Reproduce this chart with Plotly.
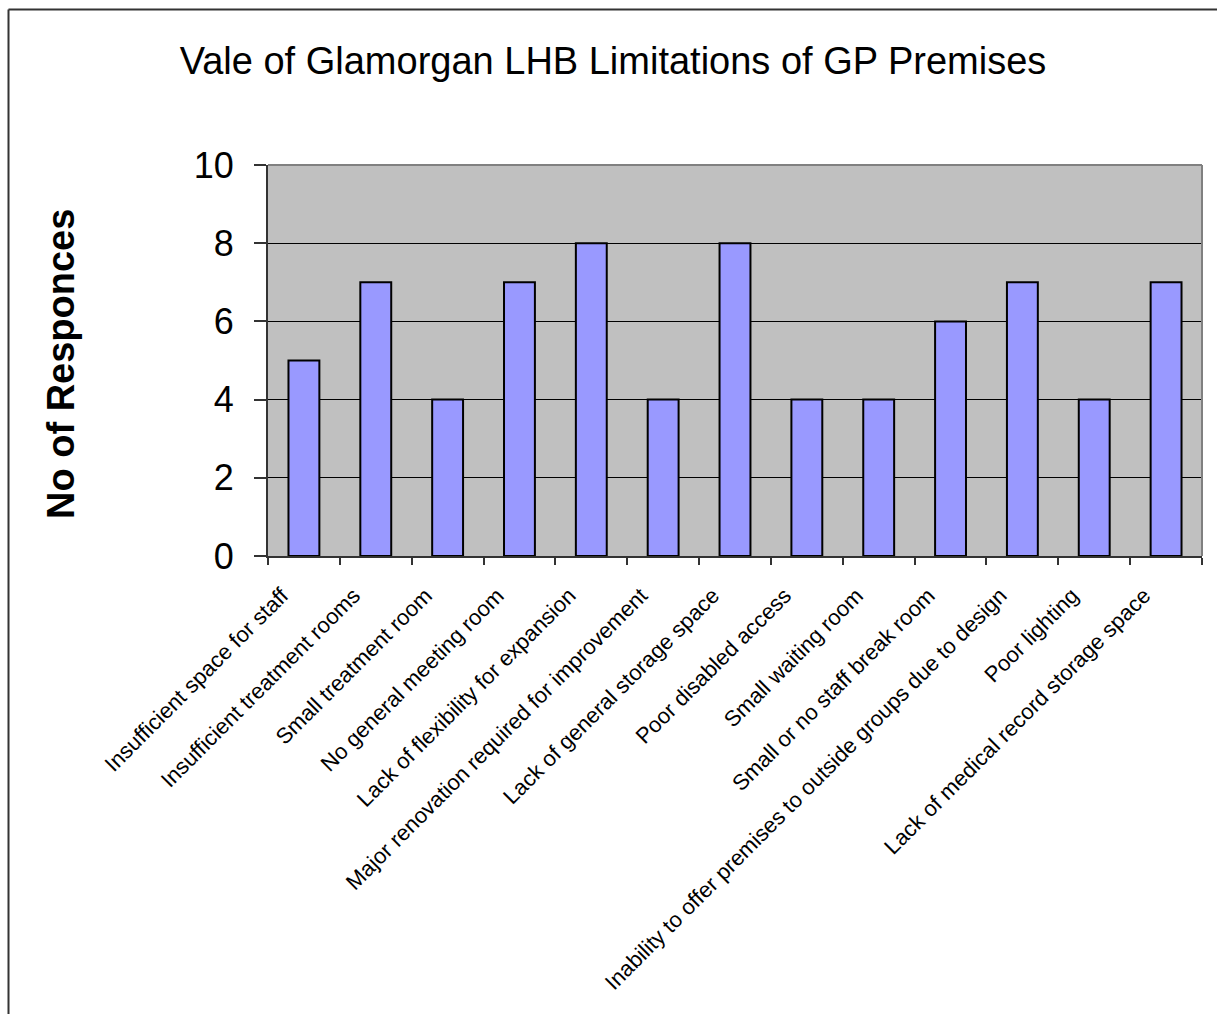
import plotly.graph_objects as go

categories = [
    "Insufficient space for staff",
    "Insufficient treatment rooms",
    "Small treatment room",
    "No general meeting room",
    "Lack of flexibility for expansion",
    "Major renovation required for improvement",
    "Lack of general storage space",
    "Poor disabled access",
    "Small waiting room",
    "Small or no staff break room",
    "Inability to offer premises to outside groups due to design",
    "Poor lighting",
    "Lack of medical record storage space",
]
responses = [5, 7, 4, 7, 8, 4, 8, 4, 4, 6, 7, 4, 7]
y_ticks = [0, 2, 4, 6, 8, 10]

FONT = "Arial, Liberation Sans, sans-serif"

W, H = 1217, 1014
L, R, T, B = 268, 15, 165, 458
plot_w = W - L - R
plot_h = H - T - B


def px_x(px):
    return (px - L) / plot_w


def px_y(py):
    return (H - B - py) / plot_h


fig = go.Figure(
    go.Bar(
        x=categories,
        y=responses,
        marker=dict(color="#9999FF", line=dict(color="black", width=2)),
    )
)

fig.update_layout(
    width=W,
    height=H,
    margin=dict(l=L, r=R, t=T, b=B, autoexpand=False),
    paper_bgcolor="white",
    plot_bgcolor="#C0C0C0",
    bargap=0.57,
    showlegend=False,
    font=dict(family=FONT, color="black"),
    title=dict(
        text="Vale of Glamorgan LHB Limitations of GP Premises",
        x=613 / W,
        xref="container",
        xanchor="center",
        y=1 - 61 / H,
        yref="container",
        yanchor="middle",
        font=dict(family=FONT, size=38, color="black"),
    ),
)

fig.update_xaxes(
    type="category",
    tickangle=-45,
    tickfont=dict(family=FONT, size=22, color="black"),
    tickson="boundaries",
    ticks="outside",
    ticklen=7,
    tickwidth=1.5,
    tickcolor="#333333",
    ticklabelshift=-22,
    ticklabelstandoff=16,
    showline=True,
    linecolor="#333333",
    linewidth=2,
    showgrid=False,
    mirror=False,
)

fig.update_yaxes(
    range=[0, 10],
    tickvals=y_ticks,
    tickfont=dict(family=FONT, size=36, color="black"),
    ticks="outside",
    ticklen=12,
    tickwidth=1.5,
    tickcolor="#333333",
    ticklabelstandoff=13,
    showline=True,
    linecolor="#333333",
    linewidth=2,
    showgrid=True,
    gridcolor="black",
    gridwidth=1,
    zeroline=False,
)

# light frame around the top and right of the plot area
fig.add_shape(type="line", xref="paper", yref="paper", x0=0, x1=1, y0=1, y1=1,
              line=dict(color="#808080", width=2), layer="above")
fig.add_shape(type="line", xref="paper", yref="paper", x0=1, x1=1, y0=0, y1=1,
              line=dict(color="#808080", width=2), layer="above")

# outer chart border (left and top edges)
fig.add_shape(type="line", xref="paper", yref="paper",
              x0=px_x(8.5), x1=px_x(8.5), y0=px_y(9.5), y1=px_y(1030),
              line=dict(color="#333333", width=2))
fig.add_shape(type="line", xref="paper", yref="paper",
              x0=px_x(8.5), x1=px_x(1230), y0=px_y(9.5), y1=px_y(9.5),
              line=dict(color="#333333", width=2))

fig.add_annotation(
    text="<b>No of Responces</b>",
    xref="paper", yref="paper",
    x=px_x(61), y=px_y(364),
    xanchor="center", yanchor="middle",
    textangle=-90,
    showarrow=False,
    font=dict(family=FONT, size=38, color="black"),
)

fig.write_html("out.html")
